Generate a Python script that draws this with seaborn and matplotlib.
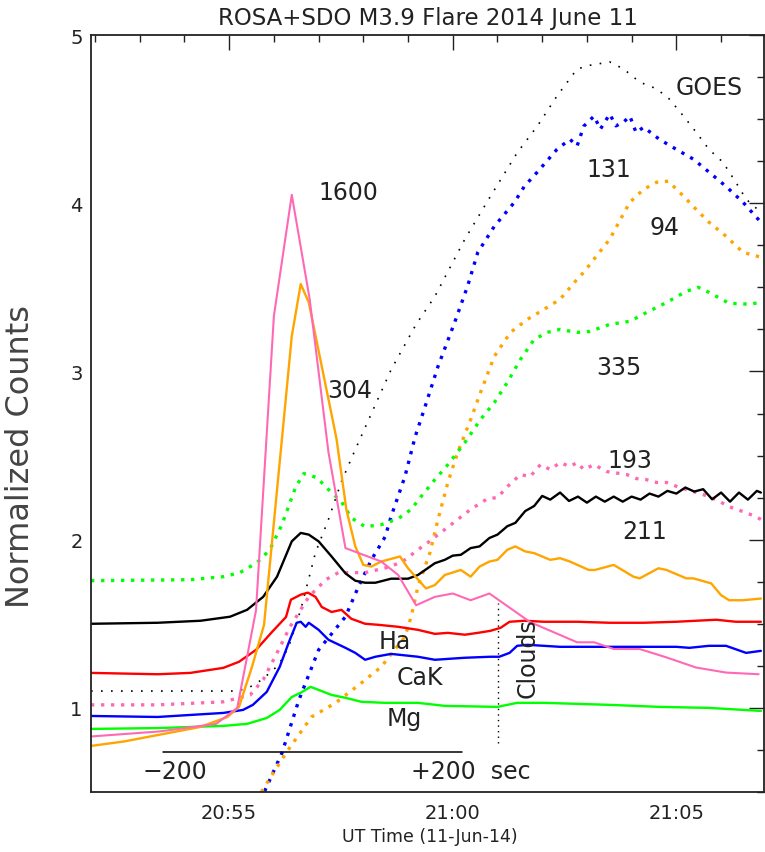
import matplotlib
matplotlib.use("Agg")
import matplotlib.pyplot as plt
from matplotlib.ticker import MultipleLocator, FixedLocator, FixedFormatter
import pandas as pd
import seaborn as sns

# time axis: minutes after 20:00 UT on 2014 June 11

# 1600 (AIA, solid pink)
t_1600 = [51.91, 53.44, 54.71, 55.18, 55.6, 56.0, 56.4, 56.8, 57.22, 57.6, 58.4, 58.78, 59.18,
          59.6, 60.0, 60.4, 60.82, 61.73, 62.78, 63.16, 63.6, 64.18, 64.78, 65.44, 66.11, 66.84]
v_1600 = [0.83, 0.86, 0.905, 1.0, 1.58, 3.33, 4.05, 3.43, 2.52, 1.95, 1.87, 1.79, 1.61,
          1.66, 1.68, 1.64, 1.68, 1.51, 1.39, 1.39, 1.35, 1.35, 1.30, 1.24, 1.21, 1.20]

# 304 (solid orange)
t_304 = [51.91, 52.64, 54.36, 54.96, 55.22, 55.51, 55.78, 56.22, 56.4, 56.6, 56.78, 57.4,
         57.62, 57.82, 58.0, 58.18, 58.4, 58.82, 59.0, 59.4, 59.6, 59.82, 60.18, 60.4, 60.6, 60.82,
         61.0, 61.22, 61.4, 61.62, 61.82, 62.18, 62.4, 62.62, 63.04, 63.18, 63.6, 64.04,
         64.18, 64.6, 64.78, 65.22, 65.38, 65.78, 66.0, 66.18, 66.49, 66.89]
v_304 = [0.774, 0.80, 0.887, 0.946, 1.006, 1.244, 1.494, 2.71, 3.21, 3.52, 3.41, 2.6,
         2.18, 1.96, 1.85, 1.84, 1.87, 1.90, 1.83, 1.71, 1.73, 1.79, 1.82, 1.78, 1.84, 1.87,
         1.88, 1.94, 1.96, 1.93, 1.92, 1.88, 1.89, 1.87, 1.82, 1.82, 1.85, 1.78,
         1.77, 1.83, 1.82, 1.77, 1.77, 1.74, 1.67, 1.64, 1.64, 1.65]

# 211 (solid black)
t_211 = [51.91, 53.4, 54.36, 55.02, 55.4, 55.76, 56.07, 56.4, 56.6, 56.78, 57.0, 57.29,
         57.6, 57.82, 58.04, 58.27, 58.62, 59.0, 59.22, 59.6, 59.82, 60.0, 60.18, 60.4,
         60.6, 60.82, 61.0, 61.22, 61.4, 61.62, 61.82, 62.0, 62.18, 62.4, 62.6, 62.8,
         63.0, 63.2, 63.4, 63.6, 63.8, 64.0, 64.2, 64.4, 64.6, 64.8, 65.0, 65.2, 65.4,
         65.6, 65.8, 66.0, 66.2, 66.4, 66.6, 66.8, 66.89]
v_211 = [1.50, 1.506, 1.518, 1.542, 1.583, 1.66, 1.78, 1.99, 2.04, 2.03, 1.99, 1.90,
         1.80, 1.756, 1.744, 1.744, 1.768, 1.768, 1.79, 1.86, 1.88, 1.905, 1.91, 1.95,
         1.96, 2.01, 2.03, 2.08, 2.10, 2.17, 2.20, 2.26, 2.238, 2.28, 2.23, 2.256,
         2.22, 2.256, 2.226, 2.256, 2.226, 2.256, 2.238, 2.274, 2.256, 2.29, 2.274, 2.31, 2.286,
         2.30, 2.24, 2.28, 2.226, 2.28, 2.238, 2.29, 2.28]

# H-alpha (ROSA, solid red)
t_ha = [51.91, 53.4, 54.13, 54.87, 55.22, 55.6, 55.96, 56.27, 56.38, 56.6, 56.76, 56.93,
        57.07, 57.29, 57.51, 57.73, 58.04, 58.33, 58.78, 59.22, 59.6, 59.89, 60.27, 60.56,
        60.84, 61.07, 61.27, 61.6, 62.04, 62.78, 63.51, 64.27, 65.0, 65.44, 65.89, 66.33, 66.89]
v_ha = [1.208, 1.20, 1.208, 1.238, 1.274, 1.345, 1.452, 1.54, 1.643, 1.673, 1.685, 1.66,
        1.60, 1.57, 1.583, 1.53, 1.50, 1.494, 1.482, 1.464, 1.44, 1.446, 1.435, 1.446,
        1.458, 1.476, 1.512, 1.518, 1.512, 1.512, 1.506, 1.506, 1.512, 1.518, 1.524, 1.512, 1.512]

# Ca K (ROSA, solid blue)
t_cak = [51.91, 53.4, 54.13, 54.87, 55.31, 55.53, 55.84, 56.13, 56.33, 56.51, 56.6, 56.71,
         56.78, 57.0, 57.22, 57.6, 57.82, 58.04, 58.27, 58.62, 59.22, 59.6, 60.27, 60.84,
         61.04, 61.27, 61.44, 61.67, 62.4, 63.51, 65.0, 65.29, 65.73, 66.11, 66.56, 66.89]
v_cak = [0.952, 0.946, 0.958, 0.97, 0.988, 1.018, 1.095, 1.244, 1.387, 1.506, 1.512, 1.482,
         1.506, 1.464, 1.405, 1.357, 1.327, 1.286, 1.304, 1.321, 1.304, 1.286, 1.298, 1.304,
         1.304, 1.327, 1.369, 1.375, 1.363, 1.363, 1.363, 1.357, 1.369, 1.369, 1.327, 1.339]

# Mg (ROSA, solid green)
t_mg = [51.91, 53.4, 54.87, 55.4, 55.84, 56.13, 56.4, 56.6, 56.82, 57.0, 57.29, 57.6,
        57.96, 58.49, 59.22, 59.82, 61.0, 61.44, 62.04, 63.51, 64.62, 65.73, 66.89]
v_mg = [0.875, 0.88, 0.893, 0.905, 0.94, 0.988, 1.065, 1.09, 1.125, 1.107, 1.077, 1.06,
        1.036, 1.03, 1.03, 1.012, 1.006, 1.03, 1.03, 1.018, 1.006, 1.0, 0.982]

# GOES (fine black dots)
t_goes = [51.91, 55.18, 55.47, 55.73, 56.11, 56.33, 56.6, 56.93, 57.22, 57.51, 57.82, 58.11,
          58.62, 59.18, 59.6, 60.27, 60.84, 61.44, 61.89, 62.33, 62.78, 63.07, 63.51, 63.82,
          64.18, 64.56, 64.84, 65.16, 65.44, 65.73, 66.04, 66.33, 66.56, 66.89]
v_goes = [1.10, 1.10, 1.125, 1.167, 1.256, 1.363, 1.583, 1.923, 2.12, 2.345, 2.536, 2.708,
          3.01, 3.28, 3.446, 3.786, 4.04, 4.30, 4.458, 4.637, 4.798, 4.82, 4.84, 4.798,
          4.72, 4.68, 4.62, 4.518, 4.423, 4.32, 4.244, 4.125, 4.024, 3.946]

# 131 (blue dots)
t_131 = [55.7, 56.18, 56.56, 57.0, 57.6, 57.89, 58.18, 58.49, 58.62, 58.93, 59.16, 59.38,
         59.67, 60.04, 60.33, 60.56, 60.93, 61.38, 61.6, 61.89, 62.33, 62.62, 62.78, 62.93,
         63.16, 63.3, 63.51, 63.65, 63.82, 63.96, 64.1, 64.27, 64.62, 65.0, 65.38, 65.73,
         66.11, 66.49, 66.89]
v_131 = [0.45, 0.732, 1.048, 1.345, 1.542, 1.72, 1.88, 2.018, 2.137, 2.375, 2.613, 2.79,
         3.03, 3.29, 3.506, 3.708, 3.863, 4.006, 4.10, 4.185, 4.32, 4.38, 4.34, 4.458,
         4.518, 4.44, 4.53, 4.46, 4.482, 4.518, 4.42, 4.452, 4.38, 4.32, 4.262, 4.185,
         4.10, 4.006, 3.887]

# 94 (orange dots)
t_94 = [55.6, 56.27, 56.84, 57.38, 57.96, 58.4, 58.93, 59.07, 59.22, 59.49, 59.67, 59.89,
        60.11, 60.4, 60.62, 60.93, 61.29, 61.67, 62.04, 62.4, 62.78, 62.93, 63.51, 63.96,
        64.27, 64.56, 64.82, 65.16, 65.44, 65.73, 66.11, 66.49, 66.89]
v_94 = [0.45, 0.732, 0.946, 1.03, 1.149, 1.244, 1.423, 1.542, 1.72, 1.923, 2.12, 2.34,
        2.518, 2.714, 2.875, 3.09, 3.232, 3.31, 3.369, 3.429, 3.548, 3.59, 3.786, 4.006,
        4.083, 4.125, 4.131, 4.042, 3.964, 3.887, 3.804, 3.708, 3.679]

# 335 (green dots)
t_335 = [51.91, 54.13, 54.87, 55.24, 55.62, 55.91, 56.18, 56.49, 56.67, 56.96, 57.22, 57.51,
         57.73, 58.04, 58.4, 58.78, 59.07, 59.29, 59.6, 59.89, 60.27, 60.62, 60.93, 61.22,
         61.51, 61.82, 62.11, 62.4, 62.78, 63.07, 63.51, 63.96, 64.33, 64.78, 65.22, 65.49,
         65.73, 66.18, 66.62, 66.89]
v_335 = [1.756, 1.762, 1.78, 1.804, 1.863, 1.94, 2.09, 2.315, 2.393, 2.369, 2.298, 2.226,
         2.13, 2.077, 2.089, 2.125, 2.18, 2.256, 2.357, 2.446, 2.577, 2.714, 2.815, 2.935,
         3.07, 3.19, 3.232, 3.25, 3.232, 3.238, 3.28, 3.298, 3.35, 3.41, 3.476, 3.50,
         3.47, 3.405, 3.40, 3.41]

# 193 (pink dots)
t_193 = [51.91, 53.4, 54.87, 55.47, 55.76, 56.07, 56.36, 56.78, 57.16, 57.44, 58.04, 58.62,
         58.93, 59.22, 59.44, 59.82, 60.11, 60.4, 60.78, 61.0, 61.22, 61.51, 61.73, 61.96,
         62.18, 62.4, 62.62, 62.78, 62.93, 63.16, 63.44, 63.89, 64.11, 64.33, 64.56, 64.78,
         65.07, 65.38, 65.6, 65.89, 66.18, 66.49, 66.78, 66.89]
v_193 = [1.018, 1.018, 1.036, 1.077, 1.167, 1.327, 1.482, 1.66, 1.762, 1.804, 1.804, 1.84,
         1.88, 1.94, 1.982, 2.06, 2.12, 2.18, 2.244, 2.25, 2.315, 2.387, 2.375, 2.446,
         2.417, 2.458, 2.435, 2.458, 2.417, 2.446, 2.405, 2.387, 2.363, 2.357, 2.34, 2.34,
         2.31, 2.286, 2.268, 2.238, 2.196, 2.167, 2.137, 2.12]

# +/- 200 s bar, cloud marker
bar_t = [53.53, 60.2]
bar_v = [0.74, 0.74]
cloud_t = [61.02, 61.02]
cloud_v = [0.79, 1.625]

HOTPINK = '#FF69B4'
ORANGE = '#FFA500'
GREEN = '#00FF00'

sns.set_theme(style="white")
plt.rcParams['font.family'] = ['DejaVu Sans']
plt.rcParams['text.color'] = '#222222'

fig = plt.figure(figsize=(7.65, 8.53), dpi=100)
ax = fig.add_axes([91 / 765, 60 / 853, 673 / 765, 757 / 853])

DOT = (0, (1, 2))
FINE = (0, (1, 5))

series = [
    (t_goes, v_goes, 'black', 1.2, FINE),
    (t_131, v_131, 'blue', 2.4, DOT),
    (t_94, v_94, ORANGE, 2.4, DOT),
    (t_335, v_335, GREEN, 2.4, DOT),
    (t_193, v_193, HOTPINK, 2.4, DOT),
    (t_mg, v_mg, GREEN, 1.7, '-'),
    (t_cak, v_cak, 'blue', 1.7, '-'),
    (t_ha, v_ha, 'red', 1.7, '-'),
    (t_211, v_211, 'black', 1.7, '-'),
    (t_304, v_304, ORANGE, 1.7, '-'),
    (t_1600, v_1600, HOTPINK, 1.5, '-'),
]

for t, v, col, lw, ls in series:
    df = pd.DataFrame({'t': t, 'v': v})
    sns.lineplot(data=df, x='t', y='v', ax=ax, color=col, linewidth=lw,
                 estimator=None, sort=False, legend=False)
    ax.lines[-1].set_linestyle(ls)

ax.plot(bar_t, bar_v, color='black', lw=1.1)
ax.plot(cloud_t, cloud_v, color='black', lw=1.0, linestyle=(0, (1, 3)))

lab = dict(fontsize=17, color='#222222', va='baseline')
ax.text(57.67, 4.024, '1600', ha='center', **lab)
ax.text(57.69, 2.851, '304', ha='center', **lab)
ax.text(65.73, 4.649, 'GOES', ha='center', **lab)
ax.text(63.49, 4.161, '131', ha='center', **lab)
ax.text(64.73, 3.815, '94', ha='center', **lab)
ax.text(63.71, 2.982, '335', ha='center', **lab)
ax.text(63.96, 2.429, '193', ha='center', **lab)
ax.text(64.29, 2.012, '211', ha='center', **lab)
ax.text(58.71, 1.357, 'Ha', ha='center', **lab)
ax.text(59.27, 1.143, 'CaK', ha='center', **lab)
ax.text(58.91, 0.899, 'Mg', ha='center', **lab)
ax.text(53.78, 0.583, '\u2212200', ha='center', **lab)
ax.text(59.07, 0.583, '+200  sec', ha='left', **lab)
ax.text(61.67, 1.304, 'Clouds', rotation=90, ha='center', va='center',
        fontsize=17, color='#222222')

ax.set_xlim(51.91, 66.96)
ax.set_ylim(0.5, 5.0)

ax.xaxis.set_major_locator(FixedLocator([55, 60, 65]))
ax.xaxis.set_major_formatter(FixedFormatter(['20:55', '21:00', '21:05']))
ax.xaxis.set_minor_locator(MultipleLocator(1))
ax.yaxis.set_minor_locator(MultipleLocator(0.25))
ax.set_yticks([1, 2, 3, 4, 5])
ax.set_yticklabels(['1', '2', '3', '4', '5'])

ax.tick_params(which='both', direction='in', top=True, right=True, color='#222222',
               width=1.0, labelcolor='#222222')
ax.tick_params(which='major', length=10.5, labelsize=14)
ax.tick_params(which='minor', length=5)
ax.tick_params(axis='x', which='major', pad=8)
ax.tick_params(axis='y', which='major', pad=6)

for s in ax.spines.values():
    s.set_color('#222222')
    s.set_linewidth(1.3)

ax.set_title('ROSA+SDO M3.9 Flare 2014 June 11', fontsize=16.5, color='#222222', pad=8)
ax.set_xlabel('UT Time (11-Jun-14)', fontsize=12.5, color='#222222')
ax.xaxis.set_label_coords(0.504, -0.046)
ax.set_ylabel('Normalized Counts', fontsize=23, color='#444444')
ax.yaxis.set_label_coords(-0.082, 0.445)

fig.savefig('out.png', dpi=100)
